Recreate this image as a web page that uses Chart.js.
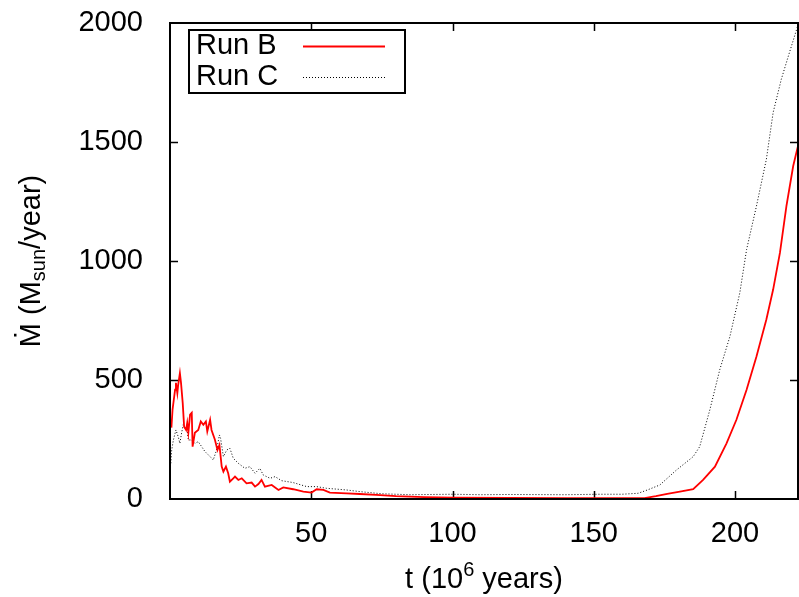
<!DOCTYPE html>
<html>
<head>
<meta charset="utf-8">
<script src="https://cdn.jsdelivr.net/npm/chart.js@4"></script>
<style>
  html, body { margin: 0; padding: 0; background: #fff; }
  #wrap { width: 799px; height: 597px; position: relative; }
</style>
</head>
<body>
<div id="wrap"><canvas id="mdot"></canvas></div>
<script>
// time in Myr, accretion rate in Msun/yr
const runBTime = [0.5, 0.9, 1.8, 2.1, 2.6, 2.9, 3.5, 3.9, 4.5, 5.0, 5.7, 6.1, 6.5, 7.1, 7.7, 8.0, 8.8, 10.0, 10.9, 11.8, 12.7, 13.2, 14.2, 14.7, 15.9, 16.8, 17.5, 18.3, 18.9, 19.8, 20.6, 21.2, 22.4, 23.0, 24.2, 25.4, 27.1, 28.9, 30.1, 31.3, 32.4, 33.6, 36.0, 38.4, 40.1, 43.6, 47.2, 50.1, 51.9, 54.3, 56.6, 62.5, 67.2, 73, 80, 90, 100, 120, 140, 160, 168, 172, 176, 180, 185.2, 188.7, 192.9, 197.0, 200.5, 204.1, 207.6, 211.1, 213.5, 215.9, 218.2, 220.6, 222.6];
const runBRate = [300, 375, 459, 488, 445, 480, 529, 488, 404, 304, 290, 320, 278, 354, 362, 220, 278, 290, 326, 312, 326, 284, 333, 290, 249, 206, 227, 136, 115, 136, 108, 73, 87, 94, 80, 87, 66, 69, 52, 63, 80, 52, 59, 38, 49, 41, 31, 27, 41, 38, 27, 24, 21, 17, 12, 8, 6, 5, 4, 4, 4, 12, 22, 30, 41, 80, 136, 234, 333, 459, 599, 754, 880, 1034, 1231, 1399, 1498];

const runCTime = [0.3, 0.6, 1.2, 2.1, 2.9, 3.5, 4.1, 4.7, 5.3, 5.9, 6.5, 7.7, 8.8, 10.0, 11.2, 12.4, 14.2, 15.3, 16.5, 17.5, 17.9, 18.9, 20.1, 21.2, 22.4, 24.2, 26.5, 28.3, 30.1, 31.8, 33.0, 35.4, 37.2, 39.5, 43.6, 48.4, 51.9, 55.4, 62.5, 67.2, 75, 85, 100, 110, 120, 140, 152.2, 160, 165.7, 169, 173.4, 179.3, 185.2, 187.5, 191.1, 194.6, 198.2, 201.7, 204.1, 207.6, 211.1, 213.5, 216.4, 219.3, 222.6];
const runCRate = [150, 206, 248, 290, 262, 234, 277, 312, 298, 304, 248, 248, 234, 241, 220, 199, 178, 164, 206, 269, 255, 178, 206, 213, 171, 150, 129, 136, 108, 129, 101, 87, 94, 77, 69, 52, 52, 45, 38, 31, 22, 18, 20, 18, 19, 18, 20, 20, 24, 38, 59, 122, 178, 220, 375, 543, 683, 866, 1048, 1231, 1427, 1624, 1764, 1877, 2003];

const xTicks = [50, 100, 150, 200];
const yTicks = [0, 500, 1000, 1500, 2000];

const FONT = "'Liberation Sans', Arial, sans-serif";

function pairs(xs, ys) {
    return xs.map((t, i) => ({ x: t, y: ys[i] }));
}

// draw a string made of pieces, some raised or lowered
function drawParts(ctx, parts, size, cx, cy) {
    let total = 0;
    parts.forEach(p => {
        ctx.font = (p.small ? Math.round(size * 0.7) : size) + 'px ' + FONT;
        p.w = ctx.measureText(p.text).width;
        total += p.w;
    });
    let px = cx - total / 2;
    parts.forEach(p => {
        ctx.font = (p.small ? Math.round(size * 0.7) : size) + 'px ' + FONT;
        ctx.fillText(p.text, px, cy + (p.shift || 0));
        px += p.w;
    });
}

const gnuFrame = {
    id: 'gnuFrame',
    beforeDatasetsDraw(chart) {
        const { ctx, chartArea: a, scales: { x, y } } = chart;
        ctx.save();
        ctx.strokeStyle = '#000';
        ctx.lineWidth = 1.5;
        ctx.beginPath();
        xTicks.forEach(v => {
            const px = Math.round(x.getPixelForValue(v)) + 0.5;
            ctx.moveTo(px, a.bottom); ctx.lineTo(px, a.bottom - 8);
            ctx.moveTo(px, a.top); ctx.lineTo(px, a.top + 8);
        });
        yTicks.slice(1, -1).forEach(v => {
            const py = Math.round(y.getPixelForValue(v)) + 0.5;
            ctx.moveTo(a.left, py); ctx.lineTo(a.left + 8, py);
            ctx.moveTo(a.right, py); ctx.lineTo(a.right - 8, py);
        });
        ctx.stroke();
        ctx.restore();
    },
    afterDraw(chart) {
        const { ctx, chartArea: a } = chart;
        ctx.save();
        ctx.strokeStyle = '#000';
        ctx.lineWidth = 2;
        ctx.strokeRect(a.left, a.top, a.right - a.left, a.bottom - a.top);

        // axis titles
        ctx.fillStyle = '#000';
        ctx.textAlign = 'left';
        ctx.textBaseline = 'middle';
        drawParts(ctx, [
            { text: 't (10' },
            { text: '6', small: true, shift: -10 },
            { text: ' years)' }
        ], 29, (a.left + a.right) / 2, 580);

        ctx.translate(32, (a.top + a.bottom) / 2);
        ctx.rotate(-Math.PI / 2);
        drawParts(ctx, [
            { text: '\u1E40 (M' },
            { text: 'sun', small: true, shift: 7 },
            { text: '/year)' }
        ], 29, 0, 0);
        ctx.restore();

        // legend box, gnuplot style: label then sample line
        ctx.save();
        ctx.lineWidth = 2;
        ctx.strokeStyle = '#000';
        ctx.strokeRect(189, 30, 216, 63);
        ctx.font = '29px ' + FONT;
        ctx.fillStyle = '#000';
        ctx.textAlign = 'left';
        ctx.textBaseline = 'middle';
        chart.data.datasets.forEach((ds, i) => {
            const ly = 46 + i * 31;
            ctx.fillText(ds.label, 196, ly);
            ctx.beginPath();
            ctx.strokeStyle = ds.borderColor;
            ctx.lineWidth = ds.borderWidth;
            ctx.setLineDash(ds.borderDash || []);
            ctx.moveTo(303, ly + 0.5);
            ctx.lineTo(385, ly + 0.5);
            ctx.stroke();
        });
        ctx.restore();
    }
};

new Chart(document.getElementById('mdot').getContext('2d'), {
    type: 'line',
    data: {
        datasets: [{
            label: 'Run B',
            data: pairs(runBTime, runBRate),
            borderColor: '#ff0000',
            borderWidth: 1.8,
            pointRadius: 0,
            tension: 0,
            fill: false
        }, {
            label: 'Run C',
            data: pairs(runCTime, runCRate),
            borderColor: '#000000',
            borderWidth: 1,
            borderDash: [1, 2],
            pointRadius: 0,
            tension: 0,
            fill: false
        }]
    },
    options: {
        responsive: true,
        maintainAspectRatio: false,
        animation: false,
        events: [],
        layout: { padding: { top: 23, right: 1, left: 0, bottom: 0 } },
        plugins: {
            legend: { display: false },
            tooltip: { enabled: false }
        },
        scales: {
            x: {
                type: 'linear',
                min: 0,
                max: 222.3,
                grid: { display: false },
                border: { display: false },
                afterBuildTicks: s => { s.ticks = xTicks.map(v => ({ value: v })); },
                afterFit: s => { s.height = 98; s.paddingLeft = 0; s.paddingRight = 0; },
                ticks: {
                    color: '#000',
                    padding: 10,
                    maxRotation: 0,
                    callback: v => String(v),
                    font: { family: FONT, size: 29 }
                }
            },
            y: {
                min: 0,
                max: 2000,
                grid: { display: false },
                border: { display: false },
                afterBuildTicks: s => { s.ticks = yTicks.map(v => ({ value: v })); },
                afterFit: s => { s.width = 170; s.paddingTop = 0; s.paddingBottom = 0; },
                ticks: {
                    color: '#000',
                    padding: 19,
                    callback: v => String(v),
                    font: { family: FONT, size: 29 }
                }
            }
        }
    },
    plugins: [gnuFrame]
});
</script>
</body>
</html>
